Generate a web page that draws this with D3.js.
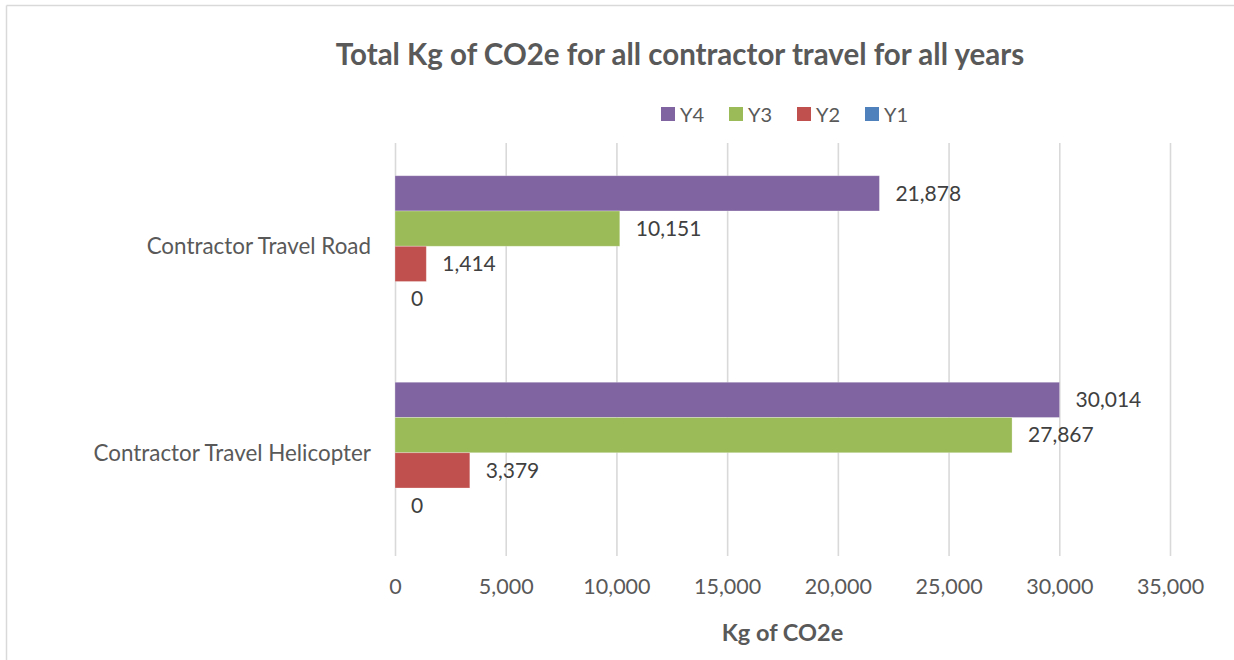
<!DOCTYPE html>
<html>
<head>
<meta charset="utf-8">
<script src="https://cdn.jsdelivr.net/npm/d3@7"></script>
<style>
  html, body { margin: 0; padding: 0; background: #fff; }
  svg { display: block; font-family: Lato, "Open Sans", sans-serif; }
</style>
</head>
<body>
<svg id="chart" width="1234" height="660"></svg>
<script>
const categories = ["Contractor Travel Road", "Contractor Travel Helicopter"];
const seriesNames = ["Y4", "Y3", "Y2", "Y1"];
const y4Values = [21878, 30014];
const y3Values = [10151, 27867];
const y2Values = [1414, 3379];
const y1Values = [0, 0];
const tickValues = [0, 5000, 10000, 15000, 20000, 25000, 30000, 35000];
const seriesColors = ["#8064a2", "#9bbb59", "#c0504d", "#4f81bd"];
const title = "Total Kg of CO2e for all contractor travel for all years";
const xTitle = "Kg of CO2e";

const seriesValues = [y4Values, y3Values, y2Values, y1Values];
const rows = categories.map((c, i) => ({
  category: c,
  values: seriesNames.map((s, j) => ({ series: s, value: seriesValues[j][i] }))
}));

const svg = d3.select("#chart");

// border (top and left visible)
svg.append("line").attr("x1", 6.5).attr("x2", 1234).attr("y1", 5.5).attr("y2", 5.5)
  .attr("stroke", "#d9d9d9").attr("stroke-width", 1.5);
svg.append("line").attr("x1", 6.5).attr("x2", 6.5).attr("y1", 5.5).attr("y2", 660)
  .attr("stroke", "#d9d9d9").attr("stroke-width", 1.5);

const plot = { left: 395, right: 1170, top: 143, bottom: 556 };

const x = d3.scaleLinear().domain([0, 35000]).range([plot.left, plot.right]);
const y = d3.scaleBand().domain(categories).range([plot.top, plot.bottom])
  .paddingInner(0.317).paddingOuter(0.1585);
const ys = d3.scaleBand().domain(seriesNames).range([0, y.bandwidth()]);
const color = d3.scaleOrdinal().domain(seriesNames).range(seriesColors);

// title
svg.append("text").attr("x", 680).attr("y", 65)
  .attr("text-anchor", "middle").attr("fill", "#595959")
  .attr("font-weight", "bold").attr("font-size", 29.5)
  .text(title);

// legend
const legendX = d3.scalePoint().domain(seriesNames).range([661, 865]);
const lg = svg.append("g").selectAll("g").data(seriesNames).join("g")
  .attr("transform", d => `translate(${legendX(d)},107)`);
lg.append("rect").attr("width", 14).attr("height", 14).attr("fill", d => color(d));
lg.append("text").attr("x", 19).attr("y", 14.5).attr("font-size", 20)
  .attr("fill", "#595959").text(d => d);

// grid + x axis
const xAxis = d3.axisBottom(x).tickValues(tickValues).tickFormat(d3.format(","))
  .tickSize(-(plot.bottom - plot.top)).tickPadding(23);
const gx = svg.append("g").attr("transform", `translate(0,${plot.bottom})`).call(xAxis);
gx.select(".domain").remove();
gx.selectAll(".tick line").attr("stroke", "#d9d9d9").attr("stroke-width", 1.6);
gx.selectAll(".tick text").attr("fill", "#595959").attr("font-size", 21.5)
  .attr("font-family", "Lato, sans-serif");

// axis title
svg.append("text").attr("x", (plot.left + plot.right) / 2).attr("y", 641)
  .attr("text-anchor", "middle").attr("fill", "#595959")
  .attr("font-weight", "bold").attr("font-size", 23.5).text(xTitle);

// category labels
svg.append("g").selectAll("text").data(categories).join("text")
  .attr("x", 371).attr("y", d => y(d) + y.bandwidth() / 2)
  .attr("dy", "0.35em").attr("text-anchor", "end")
  .attr("fill", "#595959").attr("font-size", 22.4).text(d => d);

// bars
const groups = svg.append("g").selectAll("g").data(rows).join("g")
  .attr("transform", d => `translate(0,${y(d.category)})`);
groups.selectAll("rect").data(d => d.values).join("rect")
  .attr("x", x(0))
  .attr("y", d => ys(d.series))
  .attr("width", d => x(d.value) - x(0))
  .attr("height", ys.bandwidth())
  .attr("fill", d => color(d.series))
  .attr("stroke", "#ffffff").attr("stroke-opacity", 0.35).attr("stroke-width", 0.8);
groups.selectAll("text").data(d => d.values).join("text")
  .attr("x", d => x(d.value) + 16)
  .attr("y", d => ys(d.series) + ys.bandwidth() / 2)
  .attr("dy", "0.35em")
  .attr("fill", "#404040").attr("font-size", 21)
  .text(d => d3.format(",")(d.value));
</script>
</body>
</html>
